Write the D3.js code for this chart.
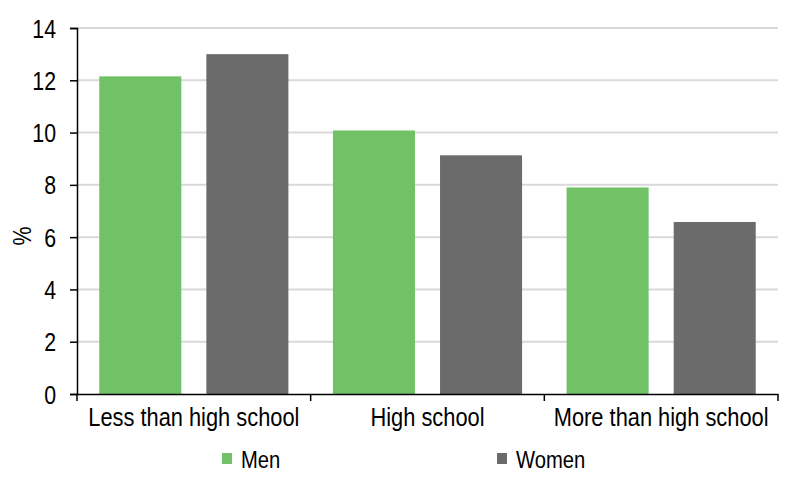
<!DOCTYPE html>
<html><head><meta charset="utf-8">
<script src="https://cdn.jsdelivr.net/npm/d3@7"></script>
<style>body{margin:0;background:#fff}svg text{font-family:"Liberation Sans",Arial,sans-serif;fill:#000}</style>
</head><body><svg id="c" width="800" height="483"></svg>
<script>
const categories = ["Less than high school", "High school", "More than high school"];
const seriesNames = ["Men", "Women"];
const men = [12.15, 10.08, 7.9];
const women = [13.0, 9.13, 6.58];
const yTicks = [0, 2, 4, 6, 8, 10, 12, 14];
const colors = ["#71c167", "#6b6b6b"];

const svg = d3.select("#c");
const mL = 77, mR = 778, mT = 28, mB = 394;
const x = d3.scaleBand().domain(categories).range([mL, mR]).paddingInner(0).paddingOuter(0);
const xs = d3.scaleBand().domain(seriesNames).range([0, x.bandwidth()]).paddingInner(0.234).paddingOuter(0.208);
const y = d3.scaleLinear().domain([0, 14]).range([mB, mT]);

// gridlines
svg.append("g").selectAll("line").data(yTicks.filter(d => d > 0)).join("line")
  .attr("x1", mL).attr("x2", mR).attr("y1", d => y(d)).attr("y2", d => y(d))
  .attr("stroke", "#d9d9d9").attr("stroke-width", 2);

const series = [men, women];
categories.forEach((c, i) => {
  seriesNames.forEach((s, j) => {
    svg.append("rect").attr("x", x(c) + xs(s)).attr("width", xs.bandwidth())
      .attr("y", y(series[j][i])).attr("height", mB - y(series[j][i]))
      .attr("fill", colors[j]);
  });
});

// y axis
const ya = svg.append("g").attr("transform", `translate(${mL},0)`)
  .call(d3.axisLeft(y).tickValues(yTicks).tickSize(7).tickPadding(14));
ya.attr("font-family", null).attr("font-size", null);
ya.select(".domain").attr("stroke", "#000").attr("stroke-width", 1.5);
ya.selectAll(".tick line").attr("stroke", "#000").attr("stroke-width", 1.5);
ya.selectAll("text").attr("font-size", 26).attr("dy", "0.35em")
  .attr("x", -21 / 0.82).attr("transform", "scale(0.82,1)");

// x axis
const xa = svg.append("g").attr("transform", `translate(0,${mB})`)
  .call(d3.axisBottom(x).tickSize(0).tickPadding(14));
xa.attr("font-family", null).attr("font-size", null);
xa.select(".domain").attr("stroke", "#000").attr("stroke-width", 1.5);
xa.selectAll("text").attr("font-size", 26).attr("dy", "0.71em").attr("transform", "scale(0.84,1)");
const bounds = [...categories.map(c => x(c)), mR];
svg.append("g").selectAll("line").data(bounds).join("line")
  .attr("x1", d => d).attr("x2", d => d).attr("y1", mB).attr("y2", mB + 7)
  .attr("stroke", "#000").attr("stroke-width", 1.5);

// y title
svg.append("text").attr("transform", "translate(31,236) rotate(-90) scale(0.82,1)")
  .attr("text-anchor", "middle").attr("font-size", 26).text("%");

// legend
const legX = [222, 497];
seriesNames.forEach((s, j) => {
  svg.append("rect").attr("x", legX[j]).attr("y", 453).attr("width", 10).attr("height", 11).attr("fill", colors[j]);
  svg.append("text").attr("transform", `translate(${legX[j] + 19},468) scale(0.86,1)`)
    .attr("font-size", 23.5).text(s);
});
</script></body></html>
